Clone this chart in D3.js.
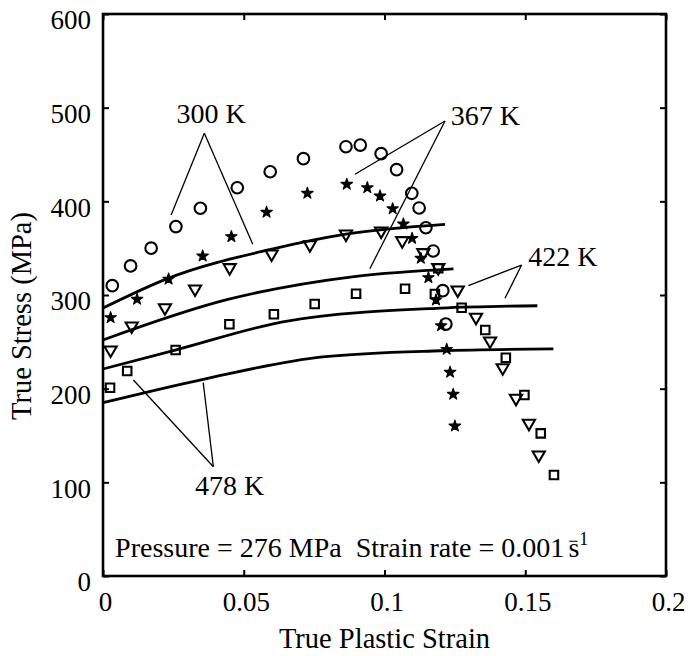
<!DOCTYPE html>
<html><head><meta charset="utf-8">
<script src="https://cdn.jsdelivr.net/npm/d3@7"></script>
<style>
body{margin:0;background:#fff}
text{font-family:"Liberation Serif","Times New Roman",Times,serif;fill:#000}
</style>
</head><body>
<svg id="chart" width="691" height="656"></svg>
<script>
// ---- data ----
const xTickValues=[0,0.05,0.1,0.15,0.2];
const xTickLabels=["0","0.05","0.1","0.15","0.2"];
const yTickValues=[0,100,200,300,400,500,600];
const yTickLabels=["0","100","200","300","400","500","600"];

// experimental points (strain, stress MPa)
const circles300=[[0.0033,310],[0.0098,331],[0.0171,350],[0.0259,373],[0.0346,392.6],[0.0477,414.5],[0.0594,431.6],[0.0712,445.5],[0.0863,458.3],[0.0914,460.1],[0.0988,450.9],[0.1043,433.8],[0.1097,408.6],[0.1123,392.9],[0.1147,371.8],[0.1173,347],[0.1207,304.6],[0.1218,269]];
const stars367=[[0.0027,275.8],[0.0121,295.4],[0.0233,317],[0.0354,341.6],[0.0456,362.3],[0.0581,388.3],[0.0726,408.6],[0.0866,418.2],[0.0939,414.5],[0.0984,405.7],[0.1029,392.1],[0.1067,375.8],[0.1098,360.5],[0.1129,339.2],[0.1156,318.5],[0.1183,294.7],[0.1201,267.2],[0.1221,242],[0.1233,217.5],[0.1244,194],[0.1250,160.1]];
const triangles422=[[0.0027,241.3],[0.0102,266.9],[0.0220,286.4],[0.0327,306.4],[0.0450,329.2],[0.0599,343.8],[0.0735,353.7],[0.0863,365.1],[0.0988,368.3],[0.1063,358],[0.1138,345.2],[0.1191,329.2],[0.1260,305.3],[0.1325,276.2],[0.1375,250.9],[0.1420,222.4],[0.1467,189.7],[0.1513,163],[0.1548,129.2]];
const squares478=[[0.0025,201],[0.0086,218.9],[0.0258,241.3],[0.0449,268.7],[0.0607,279.4],[0.0752,290.4],[0.0899,301.4],[0.1073,306.7],[0.1179,301],[0.1191,328.5],[0.1274,286.4],[0.1358,262.6],[0.1431,233],[0.1497,193.2],[0.1555,152.3],[0.1602,107.8]];

// model curves
const curve300=[[0,286],[0.0233,318],[0.06,349],[0.0863,365],[0.1215,375.5]];
const curve367=[[0,252],[0.044,295],[0.0899,320],[0.1245,328]];
const curve422=[[0,221],[0.026,241.5],[0.066,272.5],[0.12,286],[0.1543,288.5]];
const curve478=[[0,185],[0.0356,210],[0.078,234],[0.12,240.5],[0.16,242.5]];

// annotation labels: text, x, y(baseline), anchor; leader lines apex -> ends
const labels=[
 {t:"300 K",x:0.0384,y:484,a:"middle",apex:[0.036,472.6],ends:[[0.0242,385.4],[0.0532,354.1]]},
 {t:"367 K",x:0.1235,y:481.5,a:"start",apex:[0.1215,485.8],ends:[[0.0895,428.9],[0.0948,328.1]]},
 {t:"422 K",x:0.1511,y:331,a:"start",apex:[0.1487,332],ends:[[0.1298,309.9],[0.1428,296.5]]},
 {t:"478 K",x:0.0327,y:86.5,a:"start",apex:[0.0392,116.7],ends:[[0.0108,209.2],[0.0356,206.4]]}
];
const noteText={x:0.0043,y:20.3,main:"Pressure = 276 MPa\u00a0\u00a0Strain rate = 0.001"};

// ---- drawing ----
const W=691,H=656,m={l:103,r:25,t:14,b:80};
const svg=d3.select("#chart");
const x=d3.scaleLinear().domain([0,0.2]).range([m.l,W-m.r]);
const y=d3.scaleLinear().domain([0,600]).range([H-m.b,m.t]);
const FS=27, FT=28.5, FL=28;

// axes
const gx=svg.append("g").attr("transform",`translate(0,${y(0)})`)
 .call(d3.axisBottom(x).tickValues(xTickValues).tickFormat((d,i)=>xTickLabels[i]).tickSize(-6).tickSizeOuter(0).tickPadding(0));
gx.selectAll("text").attr("y",0).attr("dy","1.28em").attr("dx","2").style("font-size",FS+"px");
const gy=svg.append("g").attr("transform",`translate(${x(0)},0)`)
 .call(d3.axisLeft(y).tickValues(yTickValues).tickFormat((d,i)=>yTickLabels[i]).tickSize(-6).tickSizeOuter(0).tickPadding(12));
gy.selectAll("text").attr("dy","0.55em").style("font-size",FS+"px");
svg.append("g").attr("transform",`translate(0,${y(600)})`)
 .call(d3.axisTop(x).tickValues(xTickValues).tickFormat("").tickSize(-6).tickSizeOuter(0));
svg.append("g").attr("transform",`translate(${x(0.2)},0)`)
 .call(d3.axisRight(y).tickValues(yTickValues).tickFormat("").tickSize(-6).tickSizeOuter(0));
svg.selectAll(".domain").remove();
svg.selectAll(".tick line").attr("stroke","#000").attr("stroke-width",2);
svg.append("rect").attr("x",x(0)).attr("y",y(600)).attr("width",x(0.2)-x(0)).attr("height",y(0)-y(600))
 .attr("fill","none").attr("stroke","#000").attr("stroke-width",2.6);

// axis titles
svg.append("text").attr("x",(x(0)+x(0.2))/2).attr("y",648).attr("text-anchor","middle")
 .style("font-size",FT+"px").text("True Plastic Strain");
svg.append("text").attr("transform",`translate(31,${316}) rotate(-90)`).attr("text-anchor","middle")
 .style("font-size",FT+"px").text("True Stress (MPa)");

// curves
const line=d3.line().x(d=>x(d[0])).y(d=>y(d[1])).curve(d3.curveMonotoneX);
[curve300,curve367,curve422,curve478].forEach(c=>{
 svg.append("path").attr("d",line(c)).attr("fill","none").attr("stroke","#000").attr("stroke-width",2.8);
});

// markers
svg.append("g").selectAll("circle").data(circles300).join("circle")
 .attr("cx",d=>x(d[0])).attr("cy",d=>y(d[1])).attr("r",5.8)
 .attr("fill","none").attr("stroke","#000").attr("stroke-width",2.1);
svg.append("g").selectAll("path").data(stars367).join("path")
 .attr("transform",d=>`translate(${x(d[0])},${y(d[1])})`)
 .attr("d",d3.symbol(d3.symbolStar,40)()).attr("fill","#000").attr("stroke","#000").attr("stroke-width",1.2).attr("stroke-linejoin","round");
svg.append("g").selectAll("path").data(triangles422).join("path")
 .attr("transform",d=>`translate(${x(d[0])},${y(d[1])}) rotate(180)`)
 .attr("d",d3.symbol(d3.symbolTriangle,64)()).attr("fill","none").attr("stroke","#000").attr("stroke-width",2.1);
svg.append("g").selectAll("path").data(squares478).join("path")
 .attr("transform",d=>`translate(${x(d[0])},${y(d[1])})`)
 .attr("d",d3.symbol(d3.symbolSquare,72)()).attr("fill","none").attr("stroke","#000").attr("stroke-width",2.1);

// annotations
labels.forEach(l=>{
 l.ends.forEach(e=>{
  svg.append("line").attr("x1",x(l.apex[0])).attr("y1",y(l.apex[1])).attr("x2",x(e[0])).attr("y2",y(e[1]))
   .attr("stroke","#000").attr("stroke-width",1.3);
 });
 svg.append("text").attr("x",x(l.x)).attr("y",y(l.y)).attr("text-anchor",l.a).style("font-size",FL+"px").text(l.t);
});

// condition note
const nt=svg.append("text").attr("x",x(noteText.x)).attr("y",y(noteText.y)).style("font-size",FL+"px");
nt.append("tspan").text(noteText.main);
nt.append("tspan").attr("dx",4).attr("dy",-10).style("font-size","18px").text("\u2212");
nt.append("tspan").attr("dx",-10).attr("dy",10).text("s");
nt.append("tspan").attr("dy",-12).style("font-size","18px").text("1");
</script>
</body></html>
